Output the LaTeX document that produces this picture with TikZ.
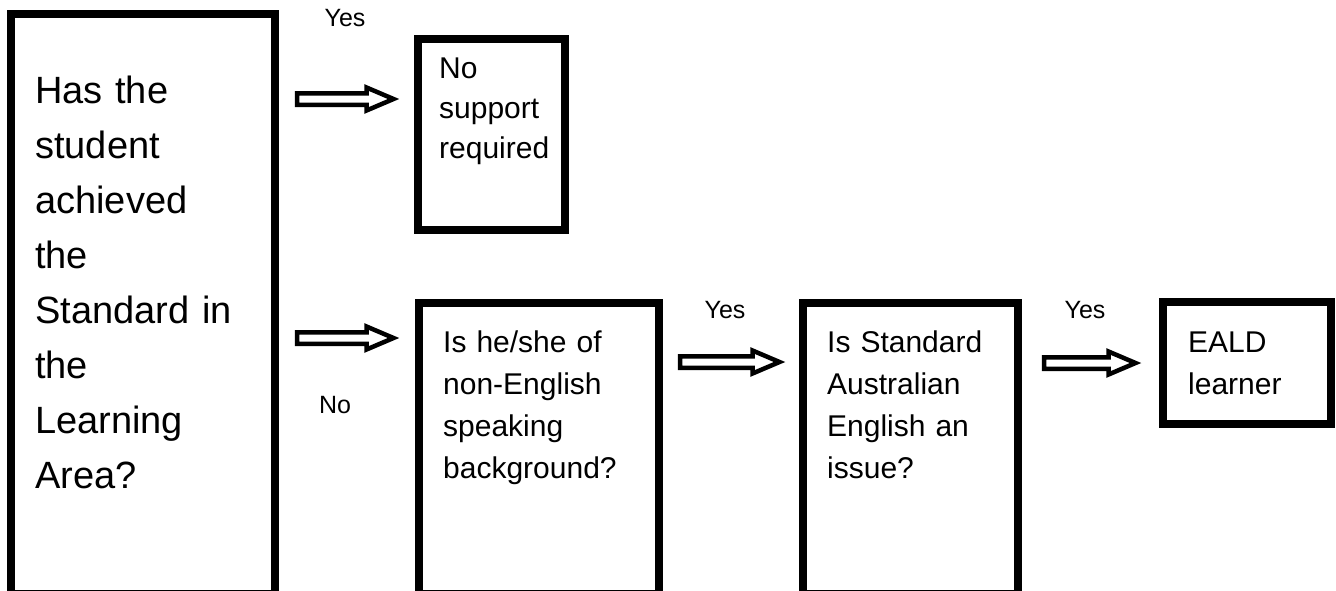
\documentclass[tikz,border=0pt]{standalone}
\usepackage{fontspec}
\setmainfont{Liberation Sans}
\usetikzlibrary{calc}
\begin{document}
\begin{tikzpicture}[x=1pt,y=-1pt,
  boxst/.style={draw=black, line width=8pt, fill=white, inner sep=0pt, outer sep=0pt, anchor=north west},
  bigtxt/.style={anchor=base west, inner sep=0pt, text width=250pt, align=left, font=\fontsize{38}{55}\selectfont},
  smalltxt/.style={anchor=base west, inner sep=0pt, text width=200pt, align=left, font=\fontsize{30}{42}\selectfont},
  lbl/.style={inner sep=0pt, font=\fontsize{25}{28}\selectfont},
  blockarrow/.style={draw=black, fill=white, line width=4.5pt, line join=miter,
    to path={let \p1=(\tikztostart), \p2=(\tikztotarget) in
      (\x1,\y1+5.75pt) -- (\x2-27pt,\y1+5.75pt) -- (\x2-27pt,\y1+11.5pt) -- (\x2,\y1)
      -- (\x2-27pt,\y1-11.5pt) -- (\x2-27pt,\y1-5.75pt) -- (\x1,\y1-5.75pt) -- cycle}}
]
\useasboundingbox (0,0) rectangle (1336,590);
\clip (0,0) rectangle (1336,590);

% boxes
\node[boxst, minimum width=264pt, minimum height=580pt] (q1) at (11,14) {};
\node[boxst, minimum width=147pt, minimum height=191pt] (nosup) at (418,39) {};
\node[boxst, minimum width=240pt, minimum height=291pt] (q2) at (419,303) {};
\node[boxst, minimum width=215pt, minimum height=291pt] (q3) at (803,303) {};
\node[boxst, minimum width=168pt, minimum height=122pt] (eald) at (1163,302) {};

% texts
\node[bigtxt] (t1) at (35,103) {Has the\\student\\achieved\\the\\Standard in\\the\\Learning\\Area?};
\node[smalltxt, font=\fontsize{30}{40}\selectfont] (t2) at (439,78) {No\\support\\required};
\node[smalltxt] (t3) at (443,352) {Is he/she of\\non-English\\speaking\\background?};
\node[smalltxt] (t4) at (827,352) {Is Standard\\Australian\\English an\\issue?};
\node[smalltxt] (t5) at (1188,352) {EALD\\learner};

% arrows
\coordinate (a1s) at (297,99);  \coordinate (a1e) at (393.5,99);
\coordinate (a2s) at (297,338); \coordinate (a2e) at (393.5,338);
\coordinate (a3s) at (680,362); \coordinate (a3e) at (779.5,362);
\coordinate (a4s) at (1044,363); \coordinate (a4e) at (1135.5,363);
\draw[blockarrow] (a1s) to (a1e);
\draw[blockarrow] (a2s) to (a2e);
\draw[blockarrow] (a3s) to (a3e);
\draw[blockarrow] (a4s) to (a4e);

% labels
\node[lbl] (yes1) at (345,18) {Yes};
\node[lbl] (no1) at (335,405) {No};
\node[lbl] (yes2) at (725,310) {Yes};
\node[lbl] (yes3) at (1085,310) {Yes};
\end{tikzpicture}
\end{document}
